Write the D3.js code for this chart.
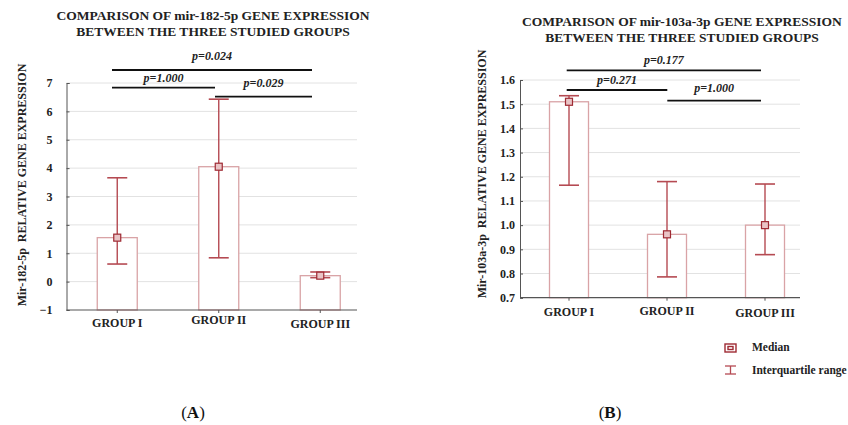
<!DOCTYPE html>
<html><head><meta charset="utf-8">
<script src="https://cdn.jsdelivr.net/npm/d3@7"></script>
<style>body{margin:0;background:#fff}svg{display:block}text{font-family:"Liberation Serif","Times New Roman",serif}</style>
</head><body><svg id="c" width="848" height="425"></svg>
<script>
const groups = ["GROUP I", "GROUP II", "GROUP III"];
// Panel A: mir-182-5p
const medianA = [1.55, 4.05, 0.21];
const q1A = [0.62, 0.84, 0.14];
const q3A = [3.66, 6.43, 0.34];
const ticksA = [-1, 0, 1, 2, 3, 4, 5, 6, 7];
const pairsA = [[0, 2, "p=0.024"], [0, 1, "p=1.000"], [1, 2, "p=0.029"]];
// Panel B: mir-103a-3p
const medianB = [1.51, 0.962, 1.0];
const q1B = [1.165, 0.786, 0.878];
const q3B = [1.535, 1.18, 1.17];
const ticksB = [0.7, 0.8, 0.9, 1.0, 1.1, 1.2, 1.3, 1.4, 1.5, 1.6];
const pairsB = [[0, 2, "p=0.177"], [0, 1, "p=0.271"], [1, 2, "p=1.000"]];

const svg = d3.select("#c");
const barStroke = "#d9a3a6", errCol = "#b54a52", medStroke = "#9e2a33";

function panel(o) {
  const g = svg.append("g");
  const y = d3.scaleLinear().domain(o.domain).range([o.bottom, o.top]);
  const x = d3.scalePoint().domain(groups).range([o.left, o.left + o.pw]).padding(0.5);
  // grid
  g.selectAll(".grid").data(o.ticks.slice(1)).join("line")
    .attr("x1", o.left).attr("x2", o.right).attr("y1", d => y(d)).attr("y2", d => y(d))
    .attr("stroke", "#e2e2e2").attr("stroke-width", 1);
  // y axis
  const ya = g.append("g").attr("transform", `translate(${o.left},0)`)
    .call(d3.axisRight(y).tickValues(o.ticks).tickSize(3).tickFormat(o.fmt));
  ya.select(".domain").attr("stroke", "#555");
  ya.selectAll(".tick line").attr("stroke", "#555");
  ya.selectAll(".tick text").attr("x", o.tlx).attr("text-anchor", "end")
    .attr("font-size", 12).attr("font-weight", "bold").attr("fill", "#222")
    .attr("font-family", "Liberation Serif");
  // bars
  g.selectAll(".bar").data(groups).join("rect")
    .attr("x", d => x(d) - o.bw / 2).attr("width", o.bw)
    .attr("y", (d, i) => y(o.med[i])).attr("height", (d, i) => y(o.domain[0]) - y(o.med[i]))
    .attr("fill", "#fff").attr("stroke", barStroke).attr("stroke-width", 1.3);
  // x axis
  g.append("line").attr("x1", o.left).attr("x2", o.right).attr("y1", o.bottom).attr("y2", o.bottom)
    .attr("stroke", "#555").attr("stroke-width", 1.2);
  g.selectAll(".xt").data(groups).join("line")
    .attr("x1", d => x(d)).attr("x2", d => x(d)).attr("y1", o.bottom).attr("y2", o.bottom + 3)
    .attr("stroke", "#555");
  g.selectAll(".xl").data(groups).join("text")
    .attr("x", d => x(d)).attr("y", (d, i) => o.bottom + o.xlab[i])
    .attr("text-anchor", "middle").attr("font-size", 12).attr("font-weight", "bold").attr("fill", "#222")
    .text(d => d);
  // error bars
  const eb = g.selectAll(".eb").data(groups).join("g");
  eb.append("line").attr("x1", d => x(d)).attr("x2", d => x(d))
    .attr("y1", (d, i) => y(o.q1[i])).attr("y2", (d, i) => y(o.q3[i]))
    .attr("stroke", errCol).attr("stroke-width", 1.4);
  [o.q1, o.q3].forEach(arr => {
    eb.append("line").attr("x1", d => x(d) - 10).attr("x2", d => x(d) + 10)
      .attr("y1", (d, i) => y(arr[i])).attr("y2", (d, i) => y(arr[i]))
      .attr("stroke", errCol).attr("stroke-width", 1.6);
  });
  eb.append("rect").attr("x", d => x(d) - 3.5).attr("y", (d, i) => y(o.med[i]) - 3.5)
    .attr("width", 7).attr("height", 7).attr("fill", "#e9c4c6").attr("stroke", medStroke).attr("stroke-width", 1.2);
  // p-value lines
  o.pairs.forEach((p, k) => {
    const ly = o.pY[k];
    g.append("line").attr("x1", o.px[p[0]]).attr("x2", o.px[p[1]]).attr("y1", ly).attr("y2", ly)
      .attr("stroke", "#111").attr("stroke-width", 1.8);
    g.append("text").attr("x", (o.px[p[0]] + o.px[p[1]]) / 2).attr("y", ly - o.pOff[k])
      .attr("text-anchor", "middle").attr("font-size", 12).attr("font-weight", "bold")
      .attr("font-style", "italic").attr("fill", "#222").text(p[2]);
  });
  // title
  const t = g.append("text").attr("x", o.tx).attr("text-anchor", "middle")
    .attr("font-size", 13.5).attr("font-weight", "bold").attr("fill", "#222");
  t.append("tspan").attr("x", o.tx).attr("y", o.ty).text(o.title[0]);
  t.append("tspan").attr("x", o.tx).attr("y", o.ty + 15.5).text(o.title[1]);
  // y label
  g.append("text").attr("transform", `translate(${o.ylx},${o.yly}) rotate(-90)`)
    .attr("text-anchor", "middle").attr("font-size", 12).attr("font-weight", "bold").attr("fill", "#222")
    .attr("xml:space", "preserve").text(o.ylabel);
  // panel letter
  const L = g.append("text").attr("x", o.letterX).attr("y", 418).attr("text-anchor", "middle")
    .attr("font-size", 17).attr("fill", "#111");
  L.append("tspan").text("(");
  L.append("tspan").attr("font-weight", "bold").text(o.letter);
  L.append("tspan").text(")");
}

panel({
  domain: [-1, 7], top: 83, bottom: 310, left: 66.5, right: 357, pw: 304.5, bw: 40, tlx: -14,
  ticks: ticksA, fmt: d => d < 0 ? "\u22121" : d3.format("d")(d),
  med: medianA, q1: q1A, q3: q3A, pairs: pairsA,
  px: [112, 215, 312], pY: [70, 87.7, 96.7], pOff: [10, 6, 10],
  xlab: [17, 14, 18],
  title: ["COMPARISON OF mir-182-5p GENE EXPRESSION", "BETWEEN THE THREE STUDIED GROUPS"], tx: 213, ty: 20,
  ylabel: "Mir-182-5p  RELATIVE GENE EXPRESSION", ylx: 26, yly: 185,
  letter: "A", letterX: 193
});
panel({
  domain: [0.7, 1.6], top: 80, bottom: 297.7, left: 520, right: 800, pw: 294, bw: 39, tlx: -5,
  ticks: ticksB, fmt: d3.format(".1f"),
  med: medianB, q1: q1B, q3: q3B, pairs: pairsB,
  px: [566.7, 667.3, 761], pY: [70.3, 90, 100.7], pOff: [6, 6, 9],
  xlab: [18.5, 17.5, 19.5],
  title: ["COMPARISON OF mir-103a-3p GENE EXPRESSION", "BETWEEN THE THREE STUDIED GROUPS"], tx: 682, ty: 26,
  ylabel: "Mir-103a-3p  RELATIVE GENE EXPRESSION", ylx: 486, yly: 174,
  letter: "B", letterX: 610
});

// legend
const leg = svg.append("g");
leg.append("rect").attr("x", 725).attr("y", 344).attr("width", 11).attr("height", 8)
  .attr("fill", "#fff").attr("stroke", medStroke).attr("stroke-width", 1.4);
leg.append("rect").attr("x", 728).attr("y", 346.5).attr("width", 5).attr("height", 3)
  .attr("fill", "#fff").attr("stroke", medStroke).attr("stroke-width", 1.4);
leg.append("line").attr("x1", 725).attr("x2", 736).attr("y1", 366).attr("y2", 366).attr("stroke", errCol).attr("stroke-width", 1.3);
leg.append("line").attr("x1", 725).attr("x2", 736).attr("y1", 374).attr("y2", 374).attr("stroke", errCol).attr("stroke-width", 1.3);
leg.append("line").attr("x1", 730.5).attr("x2", 730.5).attr("y1", 366).attr("y2", 374).attr("stroke", errCol).attr("stroke-width", 1.3);
leg.append("text").attr("x", 752).attr("y", 351).attr("font-size", 11.5).attr("font-weight", "bold").attr("fill", "#222").text("Median");
leg.append("text").attr("x", 752).attr("y", 374).attr("font-size", 11.5).attr("font-weight", "bold").attr("fill", "#222").text("Interquartile range");
</script></body></html>
